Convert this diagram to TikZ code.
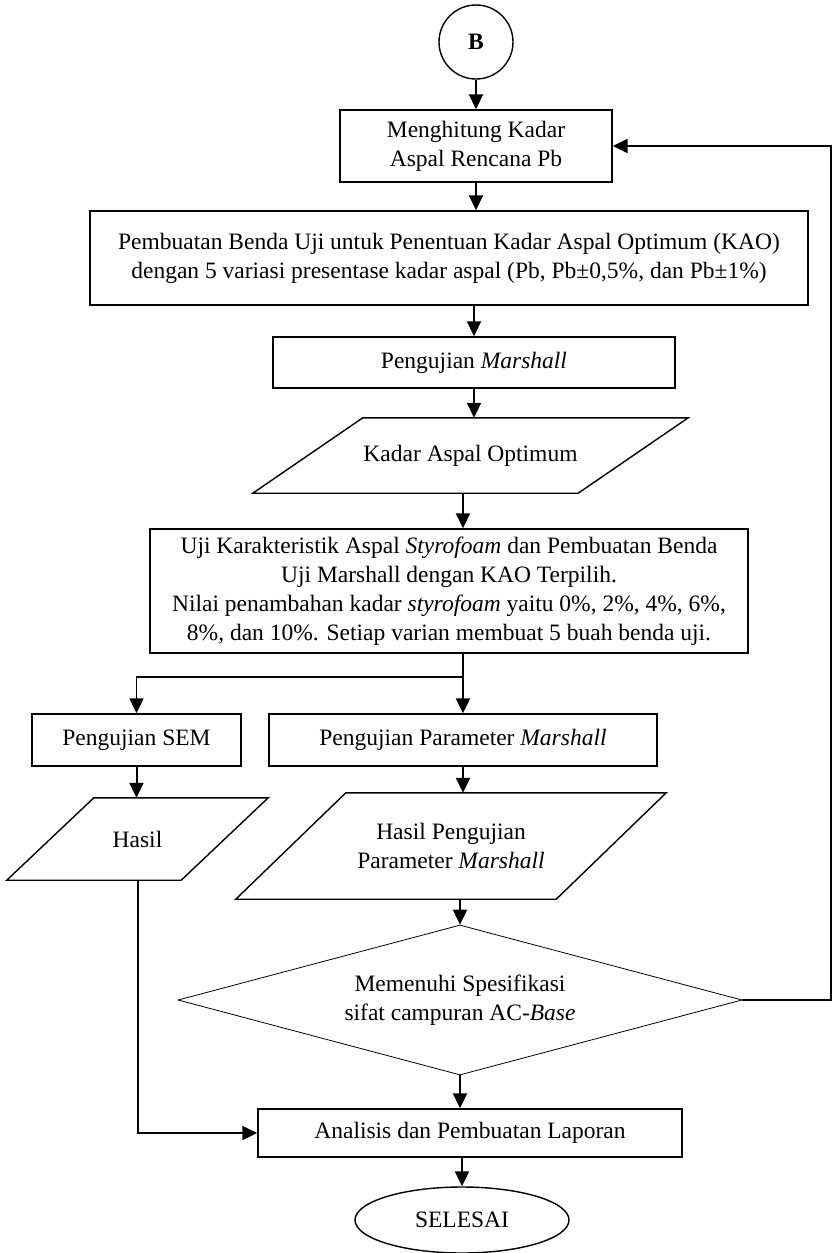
\documentclass[tikz,border=0pt]{standalone}
\usepackage{fontspec}
\setmainfont{Liberation Serif}
\usetikzlibrary{calc,arrows.meta,shapes.geometric}
\tikzset{
	proses/.style={draw, line width=1.4pt, align=center, inner sep=2pt},
	dataio/.style={align=center, inner sep=2pt},
	keputusan/.style={draw, diamond, line width=0.8pt, align=center, inner sep=0pt, aspect=3.76},
	terminal/.style={draw, ellipse, line width=1.4pt, inner sep=0pt},
	garis/.style={line width=1.4pt, line join=miter},
	panah/.style={line width=2pt, -{Triangle[length=15pt,width=14pt]}},
}
\def\miring(#1)(#2){\draw[garis] ($(#1.north west)+(#2,0)$) -- ($(#1.north east)+(#2,0)$) -- ($(#1.south east)-(#2,0)$) -- ($(#1.south west)-(#2,0)$) -- cycle;}

\begin{document}
\begin{tikzpicture}[x=1pt, y=-1pt, font=\fontsize{23.5}{29}\selectfont]
			%%%%% START %%%%%
			\useasboundingbox (0,0) rectangle (834,1253);
			
			\node[terminal, circle, minimum size=74] (b) at (476,42) {\textbf{B}};
			\node[proses, minimum width=272, minimum height=72] (hitung) at (476,146) {Menghitung Kadar\\Aspal Rencana Pb};
			\node[proses, minimum width=718, minimum height=94] (benda) at (449,258) {Pembuatan Benda Uji untuk Penentuan Kadar Aspal Optimum (KAO)\\dengan 5 variasi presentase kadar aspal (Pb, Pb±0,5\%, dan Pb±1\%)};
			\node[proses, minimum width=402, minimum height=51] (marshall) at (474,362.5) {Pengujian \textit{Marshall}};
			
			\node[dataio, minimum width=325, minimum height=75] (kao) at (470.5,455.5) {Kadar Aspal Optimum};
			\miring(kao)(55)
			
			\node[proses, minimum width=598, minimum height=124] (uji) at (449,591) {Uji Karakteristik Aspal \textit{Styrofoam} dan Pembuatan Benda\\Uji Marshall dengan KAO Terpilih.\\Nilai penambahan kadar \textit{styrofoam} yaitu 0\%, 2\%, 4\%, 6\%,\\8\%, dan 10\%. Setiap varian membuat 5 buah benda uji.};
			
			\coordinate (cabang) at (463,677);
			\node[proses, minimum width=209, minimum height=52] (sem) at (136.5,740) {Pengujian SEM};
			\node[proses, minimum width=388, minimum height=52] (param) at (463,740) {Pengujian Parameter \textit{Marshall}};
			
			\node[dataio, minimum width=174, minimum height=82] (hasil) at (137.5,839) {Hasil};
			\miring(hasil)(43.5)
			\node[dataio, minimum width=320, minimum height=106] (hparam) at (451,846) {Hasil Pengujian\\Parameter \textit{Marshall}};
			\miring(hparam)(55)
			
			\node[keputusan, minimum width=564, minimum height=150] (spek) at (460,1000) {Memenuhi Spesifikasi\\sifat campuran AC-\textit{Base}};
			\coordinate (balik) at (831,1000);
			
			\node[proses, minimum width=424, minimum height=48] (lapor) at (470,1133) {Analisis dan Pembuatan Laporan};
			\node[terminal, minimum width=214, minimum height=66] (selesai) at (462,1220) {SELESAI};
			
			\draw[panah] (b) -- (hitung);
			\draw[panah] (hitung.south) -- (hitung.south |- benda.north);
			\draw[panah] (marshall.north |- benda.south) -- (marshall.north);
			\draw[panah] (marshall.south) -- (marshall.south |- kao.north);
			\draw[panah] (kao.south -| cabang) -- (uji.north -| cabang);
			\draw[panah] (uji.south -| param.north) -- (param.north);
			\draw[panah, line width=1.5pt] (cabang) -| (sem.north);
			\draw[panah] (sem.south) -- (sem.south |- hasil.north);
			\draw[panah] (param.south) -- (param.south |- hparam.north);
			\draw[panah] (spek.north |- hparam.south) -- (spek.north);
			\draw[panah] (spek.east) -- (balik) |- (hitung.east);
			\draw[panah] (spek.south) -- (spek.south |- lapor.north);
			\draw[panah] (hasil.south) |- (lapor.west);
			\draw[panah] (selesai.north |- lapor.south) -- (selesai.north);
			
			%%%%% END %%%%%
\end{tikzpicture}
\end{document}
